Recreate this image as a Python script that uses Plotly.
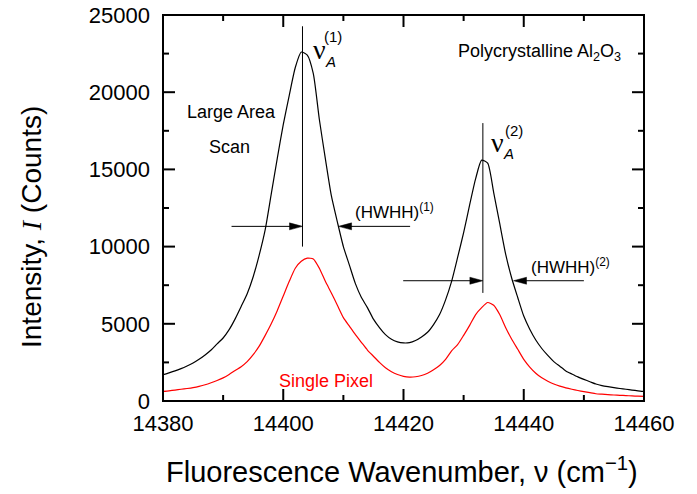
import plotly.graph_objects as go

# ---------------- data ----------------
wavenumber = list(range(14380, 14461))

large_area_scan = [
    1700, 1820, 1950, 2100, 2270, 2460, 2700, 2980, 3300, 3700,
    4080, 4620, 5320, 6120, 6950, 8050, 9450, 11100, 13400, 15700,
    17900, 19800, 21600, 22600, 22400, 21200, 18250, 15700, 13300, 11600,
    10000, 8800, 7600, 6700, 6050, 5300, 4750, 4300, 4000, 3830,
    3760, 3780, 3920, 4150, 4450, 4950, 5600, 6550, 7750, 9300,
    10900, 12700, 14400, 15600, 15400, 13500, 11500, 9500, 7950, 6700,
    5500, 4650, 3950, 3400, 2950, 2550, 2250, 1950, 1750, 1560,
    1400, 1250, 1100, 1000, 930, 870, 810, 760, 710, 660,
    620,
]

single_pixel = [
    620, 660, 710, 760, 810, 870, 950, 1050, 1180, 1330,
    1500, 1720, 1980, 2220, 2550, 3000, 3550, 4250, 5000, 5850,
    6800, 7750, 8600, 9050, 9250, 9200, 8600, 7750, 7000, 6200,
    5400, 4850, 4300, 3800, 3300, 2900, 2500, 2150, 1900, 1720,
    1600, 1550, 1570, 1650, 1800, 2030, 2300, 2700, 3250, 3650,
    4250, 4900, 5600, 6050, 6380, 6200, 5600, 4750, 4000, 3350,
    2700, 2200, 1800, 1500, 1280, 1100, 960, 850, 760, 680,
    610, 540, 470, 440, 410, 390, 370, 350, 330, 310,
    300,
]

x_tick_values = [14380, 14400, 14420, 14440, 14460]
x_minor_ticks = [14390, 14410, 14430, 14450]
y_tick_values = [0, 5000, 10000, 15000, 20000, 25000]
y_minor_ticks = [2500, 7500, 12500, 17500, 22500]

# peak markers: (peak position, line bottom, line top)
peak_lines = [(14403.2, 10000, 24270), (14433.2, 7000, 18000)]
# HWHH arrows: (y level, left tail, left tip, right tail, right tip)
hwhh_arrows = [
    (11310, 14391.4, 14403.2, 14421.1, 14409.2),
    (7790, 14419.95, 14433.2, 14450.0, 14438.3),
]

# ---------------- figure ----------------
SANS = "Arial, 'Liberation Sans', sans-serif"
SERIF = "'Times New Roman', 'Liberation Serif', serif"

W, H = 697, 494
ML, MR, MT, MB = 163, 53, 15, 93
XR = (14380, 14460)
YR = (0, 25000)
PW, PH = W - ML - MR, H - MT - MB
xs = (XR[1] - XR[0]) / PW   # data units per pixel
ys = (YR[1] - YR[0]) / PH

def paper_x(px):
    return (px - ML) / PW

def paper_y(py):
    return (H - MB - py) / PH

fig = go.Figure()
fig.add_trace(go.Scatter(x=wavenumber, y=large_area_scan, mode="lines",
                         line=dict(color="black", width=1.2, shape="spline", smoothing=0.6),
                         name="Large Area Scan"))
fig.add_trace(go.Scatter(x=wavenumber, y=single_pixel, mode="lines",
                         line=dict(color="#ff0000", width=1.2, shape="spline", smoothing=0.6),
                         name="Single Pixel"))

shapes = []
# frame
shapes.append(dict(type="rect", xref="paper", yref="paper", x0=0, x1=1, y0=0, y1=1,
                   line=dict(color="black", width=2), fillcolor="rgba(0,0,0,0)", layer="above"))
# tick marks (inside, on all four sides)
MAJ, MIN = 12, 6
for tv, ln in [(v, MAJ) for v in x_tick_values] + [(v, MIN) for v in x_minor_ticks]:
    for base, sgn in [(0, 1), (1, -1)]:
        shapes.append(dict(type="line", xref="x", yref="paper", x0=tv, x1=tv,
                           y0=base, y1=base + sgn * ln / PH, line=dict(color="black", width=2)))
for tv, ln in [(v, MAJ) for v in y_tick_values] + [(v, MIN) for v in y_minor_ticks]:
    for base, sgn in [(0, 1), (1, -1)]:
        shapes.append(dict(type="line", xref="paper", yref="y", y0=tv, y1=tv,
                           x0=base, x1=base + sgn * ln / PW, line=dict(color="black", width=2)))

for px, y0, y1 in peak_lines:
    shapes.append(dict(type="line", xref="x", yref="y", x0=px, x1=px, y0=y0, y1=y1,
                       line=dict(color="black", width=1)))

HL, HW = 13, 3.5
def head(tip_x, tip_y, direction):
    bx = tip_x - direction * HL * xs
    return dict(type="path", xref="x", yref="y",
                path=f"M {tip_x},{tip_y} L {bx},{tip_y + HW * ys} L {bx},{tip_y - HW * ys} Z",
                fillcolor="black", line=dict(color="black", width=0.5))

for yl, lt, lp, rt, rp in hwhh_arrows:
    shapes.append(dict(type="line", xref="x", yref="y", x0=lt, x1=lp - HL * xs * 0.5, y0=yl, y1=yl,
                       line=dict(color="black", width=1)))
    shapes.append(dict(type="line", xref="x", yref="y", x0=rt, x1=rp + HL * xs * 0.5, y0=yl, y1=yl,
                       line=dict(color="black", width=1)))
    shapes.append(head(lp, yl, +1))
    shapes.append(head(rp, yl, -1))

ann = []
def text(x, y, t, size, color="black", family=SANS, xanchor="center", yanchor="middle", xref="x", yref="y", angle=0):
    ann.append(dict(x=x, y=y, xref=xref, yref=yref, text=t, showarrow=False,
                    font=dict(size=size, color=color, family=family),
                    xanchor=xanchor, yanchor=yanchor, textangle=angle))

text(14391.45, 18740, "Large Area", 18)
text(14391.0, 16470, "Scan", 18)
text(14456.5, 22600, "Polycrystalline Al<sub>2</sub>O<sub>3</sub>", 18, xanchor="right")
text(14407.1, 1270, "Single Pixel", 18, color="#ff0000")
text(14411.6, 12280, "(HWHH)<sup>(1)</sup>", 17, xanchor="left")
text(14440.8, 8720, "(HWHH)<sup>(2)</sup>", 17, xanchor="left")

# nu labels
for (nx, ny), (sx, sy), (ax_, ay_), k in [
    ((14406.1, 22750), (14408.3, 23600), (14407.8, 22000), "1"),
    ((14435.7, 16760), (14438.45, 17500), (14437.4, 16000), "2"),
]:
    text(nx, ny, "ν", 28, family=SERIF)
    text(sx, sy, f"({k})", 15)
    text(ax_, ay_, "<i>A</i>", 15)

# axis titles
text(paper_x(402), paper_y(470),
     "Fluorescence Wavenumber, ν (cm<sup>−1</sup>)", 29, xref="paper", yref="paper")
text(paper_x(32), paper_y(227),
     "Intensity, <span style=\"font-family:'Times New Roman', 'Liberation Serif', serif\"><i>I</i></span> (Counts)",
     28, xref="paper", yref="paper", angle=-90)

axis_common = dict(showline=False, ticks="", showgrid=False, zeroline=False, automargin=False,
                   tickformat="d", ticklabeloverflow="allow",
                   tickfont=dict(size=22, color="black", family=SANS))

fig.update_xaxes(range=list(XR), tickvals=x_tick_values, ticklabelstandoff=7, **axis_common)
fig.update_yaxes(range=list(YR), tickvals=y_tick_values, ticklabelstandoff=12, **axis_common)

fig.update_layout(width=W, height=H, margin=dict(l=ML, r=MR, t=MT, b=MB, autoexpand=False),
                  plot_bgcolor="white", paper_bgcolor="white", showlegend=False,
                  shapes=shapes, annotations=ann, font=dict(family=SANS))

fig.write_html("out.html", config={"displayModeBar": False},
               post_script="document.body.style.margin='0px';document.body.style.overflow='hidden';")
